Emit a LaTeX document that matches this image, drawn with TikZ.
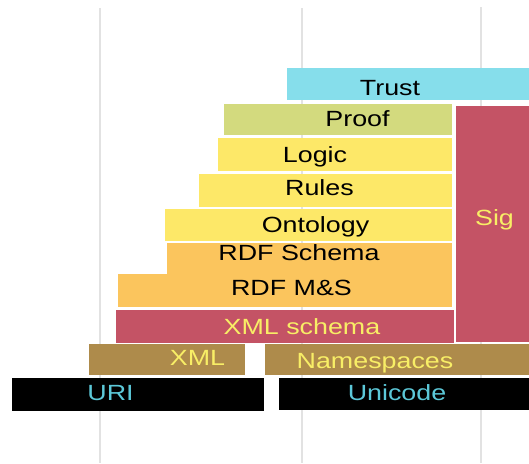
\documentclass[tikz,border=0pt]{standalone}
\usepackage{fontspec}
\newfontfamily\lblfont[FakeStretch=1.22]{Liberation Sans}
\usetikzlibrary{fit}
\definecolor{cTrust}{HTML}{86DEEB}
\definecolor{cProof}{HTML}{D3DA7E}
\definecolor{cYel}{HTML}{FDE868}
\definecolor{cRdf}{HTML}{FBC55D}
\definecolor{cRed}{HTML}{C45365}
\definecolor{cBrown}{HTML}{AE8B4B}
\definecolor{cCyanTxt}{HTML}{5CC8D8}
\definecolor{cYelTxt}{HTML}{F8EE66}
\definecolor{cGrid}{HTML}{E2E2E2}
\tikzset{
  box/.style={inner sep=0pt, outer sep=0pt, draw=none},
  lbl/.style={inner sep=0pt, anchor=base, font=\lblfont\fontsize{22}{22}\selectfont},
  gridline/.style={draw=cGrid, line width=2pt}
}
\begin{document}
\begin{tikzpicture}[x=1pt,y=-1pt]
\useasboundingbox[fill=white] (0,0) rectangle (529,463);
% grid lines
\coordinate (g1t) at (100,8);   \coordinate (g1b) at (100,463);
\coordinate (g2t) at (302,8);   \coordinate (g2b) at (302,463);
\coordinate (g3t) at (481,7);   \coordinate (g3b) at (481,463);
\draw[gridline] (g1t) -- (g1b);
\draw[gridline] (g2t) -- (g2b);
\draw[gridline] (g3t) -- (g3b);
% boxes
\node[box, fill=cTrust, fit={(287,68) (529,100)}] (trust) {};
\node[box, fill=cProof, fit={(224,104) (452,135)}] (proof) {};
\node[box, fill=cRed,   fit={(456,106) (529,342)}] (sig) {};
\node[box, fill=cYel,   fit={(218,138) (452,171)}] (logic) {};
\node[box, fill=cYel,   fit={(199,174) (452,207)}] (rules) {};
\node[box, fill=cYel,   fit={(165,209) (452,241)}] (onto) {};
\node[box, fill=cRdf,   fit={(167,243) (452,274.5)}] (rdfs) {};
\node[box, fill=cRdf,   fit={(118,274) (452,307)}] (rdfms) {};
\node[box, fill=cRed,   fit={(116,310) (454,343)}] (xmls) {};
\node[box, fill=cBrown, fit={(89,344) (245,375)}] (xml) {};
\node[box, fill=cBrown, fit={(265,344) (529,375)}] (ns) {};
\node[box, fill=black,  fit={(12,378) (264,411)}] (uri) {};
\node[box, fill=black,  fit={(279,378) (529,410)}] (uni) {};
% labels
\node[lbl] (ltrust) at (390,95) {Trust};
\node[lbl] (lproof) at (357.5,126.5) {Proof};
\node[lbl] (llogic) at (315,162.5) {Logic};
\node[lbl] (lrules) at (319.5,195) {Rules};
\node[lbl] (lonto) at (315.5,232.5) {Ontology};
\node[lbl] (lrdfs) at (299,260.5) {RDF Schema};
\node[lbl] (lrdfms) at (291.5,295.5) {RDF M\&S};
\node[lbl, text=cYelTxt] (lsig) at (494.5,225) {Sig};
\node[lbl, text=cYelTxt] (lxmls) at (302,334) {XML schema};
\node[lbl, text=cYelTxt] (lxml) at (197.5,365) {XML};
\node[lbl, text=cYelTxt] (lns) at (375,368) {Namespaces};
\node[lbl, text=cCyanTxt] (luri) at (110.5,400.5) {URI};
\node[lbl, text=cCyanTxt] (luni) at (397,400.5) {Unicode};
\end{tikzpicture}
\end{document}
